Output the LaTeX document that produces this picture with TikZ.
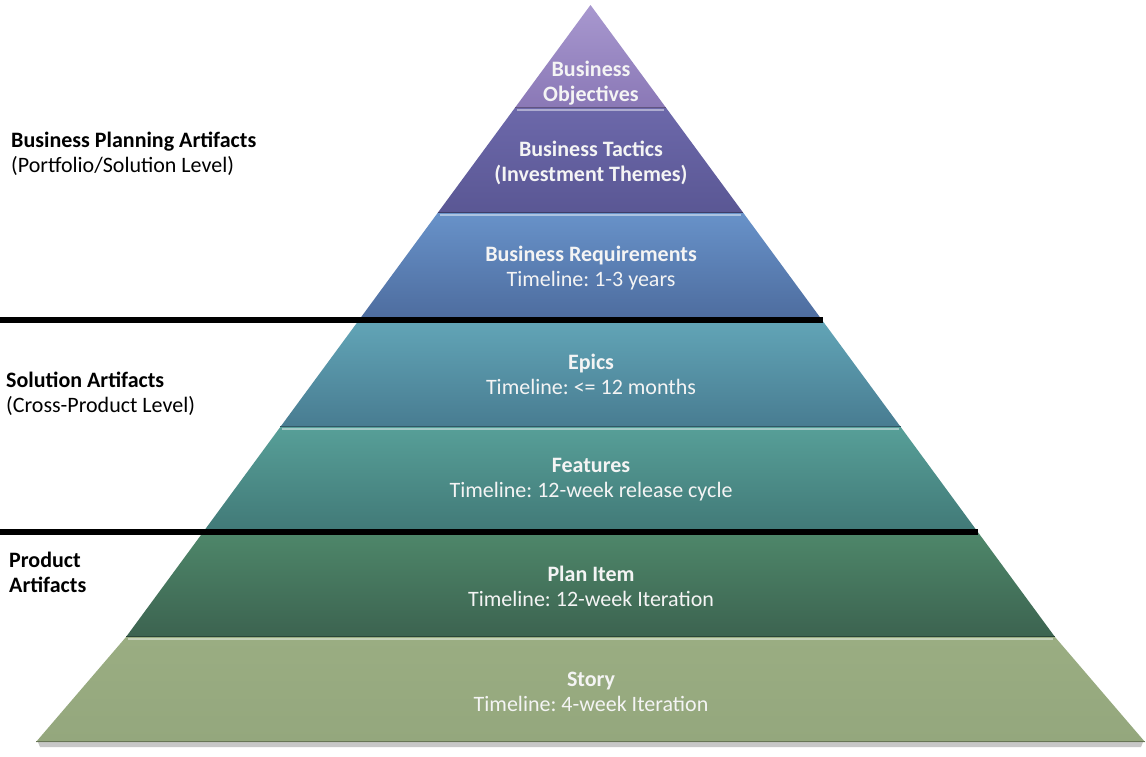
\documentclass[tikz,border=0pt]{standalone}
\usepackage{fontspec}
\setmainfont{Carlito}
\frenchspacing
\definecolor{objT}{HTML}{A898CF}
\definecolor{objB}{HTML}{8A78B6}
\definecolor{tacT}{HTML}{6C68AA}
\definecolor{tacB}{HTML}{5A5794}
\definecolor{reqT}{HTML}{6892C9}
\definecolor{reqB}{HTML}{4D6C9E}
\definecolor{epiT}{HTML}{62A5B7}
\definecolor{epiB}{HTML}{487C91}
\definecolor{feaT}{HTML}{579F98}
\definecolor{feaB}{HTML}{417977}
\definecolor{plaT}{HTML}{4E876A}
\definecolor{plaB}{HTML}{3C6350}
\definecolor{stoT}{HTML}{9AAD82}
\definecolor{stoB}{HTML}{94A77D}
\definecolor{txt}{HTML}{F4F4F4}
\newcommand{\pyrlayer}[6]{%
  \path[top color=#5, bottom color=#6] (590.5-#3,#1) -- (590.5+#3,#1) -- (590.5+#4,#2) -- (590.5-#4,#2) -- cycle;
  \draw[#6!70!black, line width=1.2pt] (590.5-#4,#2-0.6) -- (590.5+#4,#2-0.6);
}
\newcommand{\pyrhigh}[3]{%
  \draw[#3!55!white, line width=2.2pt] (590.5-#2+2,#1+1.6) -- (590.5+#2-2,#1+1.6);
}
\tikzset{
  lvl/.style={text=txt, align=center, inner sep=0pt, font=\fontsize{22}{25}\selectfont\frenchspacing},
  side/.style={text=black, align=left, anchor=west, inner sep=0pt, font=\fontsize{22}{25}\selectfont\frenchspacing},
}
\begin{document}
\begin{tikzpicture}[x=1pt,y=-1pt]
\useasboundingbox (0,0) rectangle (1146,756);
\fill[white] (0,0) rectangle (1146,756);
% shadow under base
\fill[black!22] (38,742) -- (1143,742) -- (1141,747) -- (40,747) -- cycle;
% layers
\pyrlayer{5}{108}{0}{75.7}{objT}{objB}
\pyrlayer{108}{213}{75.7}{152.9}{tacT}{tacB}
\pyrlayer{213}{320}{152.9}{231.5}{reqT}{reqB}
\pyrlayer{320}{427}{231.5}{310.2}{epiT}{epiB}
\pyrlayer{427}{532}{310.2}{387.3}{feaT}{feaB}
\pyrlayer{532}{637}{387.3}{464.5}{plaT}{plaB}
\pyrlayer{637}{742}{464.5}{554.5}{stoT}{stoB}
\pyrhigh{108}{75.7}{tacT}
\pyrhigh{213}{152.9}{reqT}
\pyrhigh{320}{231.5}{epiT}
\pyrhigh{427}{310.2}{feaT}
\pyrhigh{532}{387.3}{plaT}
\pyrhigh{637}{464.5}{stoT}
% separators
\draw[black, line width=6pt] (0,320) -- (822.5,320);
\draw[black, line width=6pt] (0,532) -- (978,532);
% level texts
\node[lvl] (obj) at (591,83) {\textbf{Business}\\\textbf{Objectives}};
\node[lvl] (tac) at (591,163) {\textbf{Business Tactics}\\\textbf{(Investment Themes)}};
\node[lvl] (req) at (591,268.5) {\textbf{Business Requirements}\\Timeline: 1-3 years};
\node[lvl] (epi) at (591,374.5) {\textbf{Epics}\\Timeline: <= 12 months};
\node[lvl] (fea) at (591,479.5) {\textbf{Features}\\Timeline: 12-week release cycle};
\node[lvl] (pla) at (591,586) {\textbf{Plan Item}\\Timeline: 12-week Iteration};
\node[lvl] (sto) at (591,692) {\textbf{Story}\\Timeline: 4-week Iteration};
% side texts
\node[side] (bpa) at (11,153.5) {\textbf{Business Planning Artifacts}\\(Portfolio/Solution Level)};
\node[side] (sa) at (6,393.5) {\textbf{Solution Artifacts}\\(Cross-Product Level)};
\node[side] (pa) at (9,572) {\textbf{Product}\\\textbf{Artifacts}};
\end{tikzpicture}
\end{document}
